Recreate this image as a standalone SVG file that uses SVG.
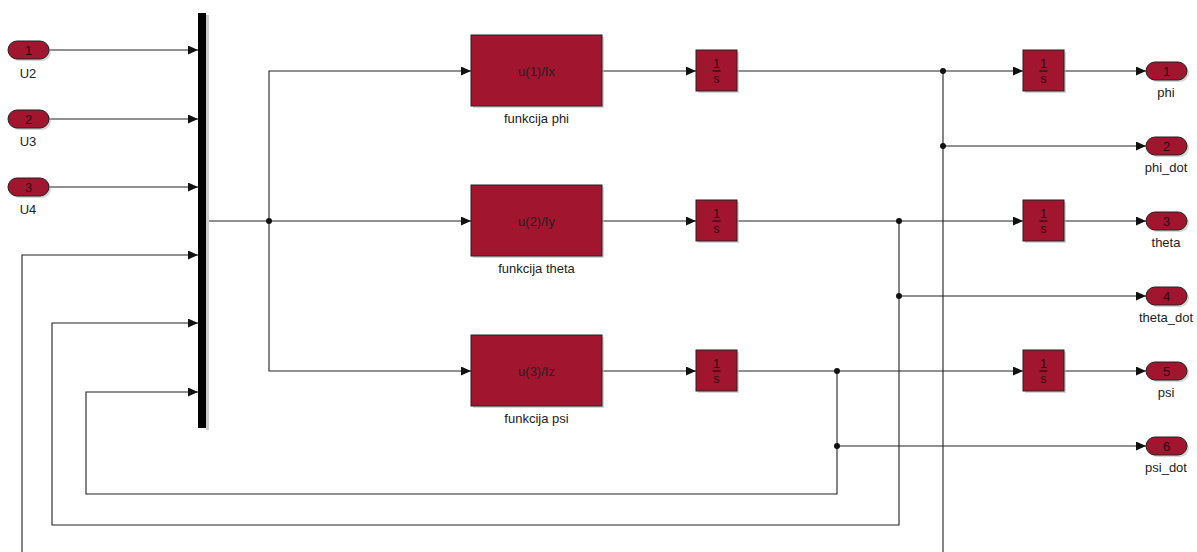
<svg xmlns="http://www.w3.org/2000/svg" width="1197" height="552" viewBox="0 0 1197 552">
<defs>
<marker id="ah" markerWidth="10" markerHeight="9" refX="10" refY="4.5" orient="auto" markerUnits="userSpaceOnUse">
<path d="M0,0 L10,4.5 L0,9 z" fill="#111"/>
</marker>
</defs>
<style>
.blk{fill:#A1152F;stroke:#222;stroke-width:1}
.sh{fill:#bbb;opacity:0.6}
.ln{fill:none;stroke:#222;stroke-width:1.1;marker-end:url(#ah)}
.ln2{fill:none;stroke:#222;stroke-width:1.1}
.t{font-family:"Liberation Sans",Arial,sans-serif;font-size:13px;fill:#222;text-anchor:middle}
.in{font-family:"Liberation Sans",Arial,sans-serif;font-size:13px;fill:#2a0a10;text-anchor:middle}
.fr{font-family:"Liberation Sans",Arial,sans-serif;font-size:12px;fill:#2a0a10;text-anchor:middle}
.bar{stroke:#2a0a10;stroke-width:1.2}
.dot{fill:#111}
</style>
<rect width="1197" height="552" fill="#fff"/>

<g id="connectors">
<path class="ln" d="M49,50 H198"/>
<path class="ln" d="M49,119 H198"/>
<path class="ln" d="M49,187 H198"/>
<path class="ln" d="M943,71 V580 H22 V255 H198"/>
<path class="ln" d="M899,221 V525 H52 V323 H198"/>
<path class="ln" d="M837,371 V494 H86 V392 H198"/>
<path class="ln2" d="M206,221 H269"/>
<path class="ln" d="M269,221 V71 H471"/>
<path class="ln" d="M269,221 H471"/>
<path class="ln" d="M269,221 V371 H471"/>
<path class="ln" d="M602,71 H696"/>
<path class="ln" d="M602,221 H696"/>
<path class="ln" d="M602,371 H696"/>
<path class="ln" d="M737,71 H1023"/>
<path class="ln" d="M737,221 H1023"/>
<path class="ln" d="M737,371 H1023"/>
<path class="ln" d="M943,146 H1146"/>
<path class="ln" d="M899,296 H1146"/>
<path class="ln" d="M837,446 H1146"/>
<path class="ln" d="M1064,71 H1146"/>
<path class="ln" d="M1064,221 H1146"/>
<path class="ln" d="M1064,371 H1146"/>
<circle class="dot" cx="269" cy="221" r="3"/>
<circle class="dot" cx="943" cy="71" r="3"/>
<circle class="dot" cx="943" cy="146" r="3"/>
<circle class="dot" cx="899" cy="221" r="3"/>
<circle class="dot" cx="899" cy="296" r="3"/>
<circle class="dot" cx="837" cy="371" r="3"/>
<circle class="dot" cx="837" cy="446" r="3"/>
</g>

<g id="in1"><rect class="sh" x="10" y="43" width="41" height="18" rx="9"/><rect class="blk" x="8" y="41" width="41" height="18" rx="9"/><text class="in" x="28.5" y="55">1</text><text class="t" x="28" y="78">U2</text></g>
<g id="in2"><rect class="sh" x="10" y="112" width="41" height="18" rx="9"/><rect class="blk" x="8" y="110" width="41" height="18" rx="9"/><text class="in" x="28.5" y="124">2</text><text class="t" x="28" y="146">U3</text></g>
<g id="in3"><rect class="sh" x="10" y="180" width="41" height="18" rx="9"/><rect class="blk" x="8" y="178" width="41" height="18" rx="9"/><text class="in" x="28.5" y="192">3</text><text class="t" x="28" y="214">U4</text></g>

<g id="mux"><rect x="206" y="15" width="3" height="415" fill="#ccc"/><rect x="198" y="13" width="8" height="415" fill="#000"/></g>

<g id="fphi"><rect class="sh" x="473" y="37" width="131" height="71"/><rect class="blk" x="471" y="35" width="131" height="71"/><text class="t" x="536.5" y="76">u(1)/Ix</text><text class="t" x="536.5" y="123">funkcija phi</text></g>
<g id="ftheta"><rect class="sh" x="473" y="187" width="131" height="71"/><rect class="blk" x="471" y="185" width="131" height="71"/><text class="t" x="536.5" y="226">u(2)/Iy</text><text class="t" x="536.5" y="273">funkcija theta</text></g>
<g id="fpsi"><rect class="sh" x="473" y="337" width="131" height="71"/><rect class="blk" x="471" y="335" width="131" height="71"/><text class="t" x="536.5" y="376">u(3)/Iz</text><text class="t" x="536.5" y="423">funkcija psi</text></g>

<g id="int1"><rect class="sh" x="698" y="52" width="41" height="41"/><rect class="blk" x="696" y="50" width="41" height="41"/><text class="fr" x="716.5" y="68">1</text><line class="bar" x1="712.5" y1="71" x2="720.5" y2="71"/><text class="fr" x="716.5" y="83">s</text></g>
<g id="int2"><rect class="sh" x="698" y="202" width="41" height="41"/><rect class="blk" x="696" y="200" width="41" height="41"/><text class="fr" x="716.5" y="218">1</text><line class="bar" x1="712.5" y1="221" x2="720.5" y2="221"/><text class="fr" x="716.5" y="233">s</text></g>
<g id="int3"><rect class="sh" x="698" y="352" width="41" height="41"/><rect class="blk" x="696" y="350" width="41" height="41"/><text class="fr" x="716.5" y="368">1</text><line class="bar" x1="712.5" y1="371" x2="720.5" y2="371"/><text class="fr" x="716.5" y="383">s</text></g>
<g id="int4"><rect class="sh" x="1025" y="52" width="41" height="41"/><rect class="blk" x="1023" y="50" width="41" height="41"/><text class="fr" x="1043.5" y="68">1</text><line class="bar" x1="1039.5" y1="71" x2="1047.5" y2="71"/><text class="fr" x="1043.5" y="83">s</text></g>
<g id="int5"><rect class="sh" x="1025" y="202" width="41" height="41"/><rect class="blk" x="1023" y="200" width="41" height="41"/><text class="fr" x="1043.5" y="218">1</text><line class="bar" x1="1039.5" y1="221" x2="1047.5" y2="221"/><text class="fr" x="1043.5" y="233">s</text></g>
<g id="int6"><rect class="sh" x="1025" y="352" width="41" height="41"/><rect class="blk" x="1023" y="350" width="41" height="41"/><text class="fr" x="1043.5" y="368">1</text><line class="bar" x1="1039.5" y1="371" x2="1047.5" y2="371"/><text class="fr" x="1043.5" y="383">s</text></g>

<g id="out1"><rect class="sh" x="1148" y="64" width="41" height="18" rx="9"/><rect class="blk" x="1146" y="62" width="41" height="18" rx="9"/><text class="in" x="1166.5" y="76">1</text><text class="t" x="1166" y="97">phi</text></g>
<g id="out2"><rect class="sh" x="1148" y="139" width="41" height="18" rx="9"/><rect class="blk" x="1146" y="137" width="41" height="18" rx="9"/><text class="in" x="1166.5" y="151">2</text><text class="t" x="1166" y="172">phi_dot</text></g>
<g id="out3"><rect class="sh" x="1148" y="214" width="41" height="18" rx="9"/><rect class="blk" x="1146" y="212" width="41" height="18" rx="9"/><text class="in" x="1166.5" y="226">3</text><text class="t" x="1166" y="247">theta</text></g>
<g id="out4"><rect class="sh" x="1148" y="289" width="41" height="18" rx="9"/><rect class="blk" x="1146" y="287" width="41" height="18" rx="9"/><text class="in" x="1166.5" y="301">4</text><text class="t" x="1166" y="322">theta_dot</text></g>
<g id="out5"><rect class="sh" x="1148" y="364" width="41" height="18" rx="9"/><rect class="blk" x="1146" y="362" width="41" height="18" rx="9"/><text class="in" x="1166.5" y="376">5</text><text class="t" x="1166" y="397">psi</text></g>
<g id="out6"><rect class="sh" x="1148" y="439" width="41" height="18" rx="9"/><rect class="blk" x="1146" y="437" width="41" height="18" rx="9"/><text class="in" x="1166.5" y="451">6</text><text class="t" x="1166" y="472">psi_dot</text></g>
</svg>
